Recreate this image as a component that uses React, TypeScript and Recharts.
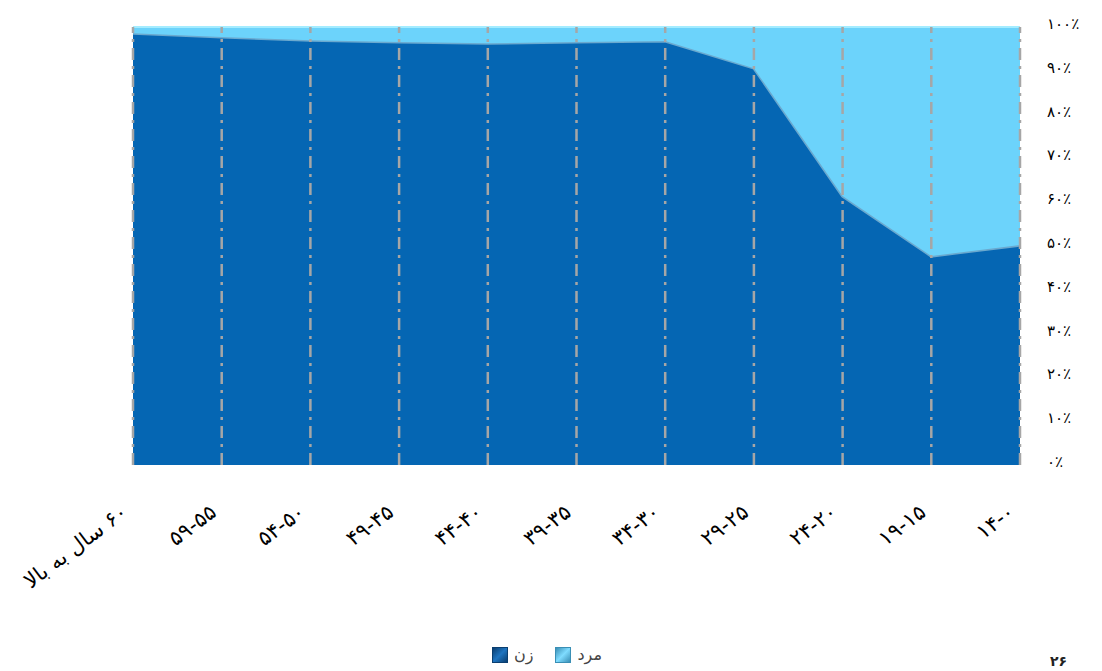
import { AreaChart, Area, XAxis, YAxis, ReferenceLine } from "recharts";

// age groups, left to right as in the picture
const AGE_GROUPS = [
  "\u202B۶۰ سال به بالا\u202C",
  "۵۹-۵۵",
  "۵۴-۵۰",
  "۴۹-۴۵",
  "۴۴-۴۰",
  "۳۹-۳۵",
  "۳۴-۳۰",
  "۲۹-۲۵",
  "۲۴-۲۰",
  "۱۹-۱۵",
  "۱۴-۰",
];

// share of women / men (%)
const WOMEN = [98.6, 97.7, 97.0, 96.6, 96.3, 96.6, 96.8, 90.6, 61.4, 47.7, 50.2];
const MEN = [1.4, 2.3, 3.0, 3.4, 3.7, 3.4, 3.2, 9.4, 38.6, 52.3, 49.8];

const PERCENT_TICKS = [0, 10, 20, 30, 40, 50, 60, 70, 80, 90, 100];
const PERCENT_LABELS = ["۰٪", "۱۰٪", "۲۰٪", "۳۰٪", "۴۰٪", "۵۰٪", "۶۰٪", "۷۰٪", "۸۰٪", "۹۰٪", "۱۰۰٪"];

const WOMEN_COLOR = "#0566b3";
const MEN_COLOR = "#6cd3fb";
const GRID_COLOR = "#a6a6a6";
const FONT = "'DejaVu Sans', sans-serif";

const data = AGE_GROUPS.map((g, i) => ({ group: g, women: WOMEN[i], men: MEN[i] }));

function AgeTick({ x, y, payload }: any) {
  return (
    <g transform={`translate(${x - 4},${y + 42})`}>
      <text
        x={0}
        y={0}
        textAnchor="end"
        transform="rotate(-37)"
        fontSize={21}
        fontFamily={FONT}
        fill="#000"
      >
        {payload.value}
      </text>
    </g>
  );
}

function PercentTick({ x, y, payload }: any) {
  const idx = PERCENT_TICKS.indexOf(payload.value);
  return (
    <text
      x={x + 19}
      y={y - 3}
      textAnchor="start"
      dominantBaseline="central"
      fontSize={15}
      fontFamily={FONT}
      fill="#000"
    >
      {PERCENT_LABELS[idx]}
    </text>
  );
}

function LegendBox({ color, dark }: { color: string; dark: string }) {
  return (
    <span
      style={{
        display: "inline-block",
        width: 14,
        height: 14,
        background: `linear-gradient(135deg, ${dark} 0%, ${color} 50%, ${dark} 100%)`,
        border: `1px solid ${dark}`,
        verticalAlign: "middle",
      }}
    />
  );
}

export default function App() {
  return (
    <div style={{ position: "absolute", left: 0, top: 0, width: 1102, height: 671, background: "#fff" }}>
      <AreaChart
        width={1102}
        height={671}
        data={data}
        margin={{ top: 27, right: 0, left: 133, bottom: 0 }}
      >
        <XAxis
          dataKey="group"
          height={206}
          axisLine={false}
          tickLine={false}
          interval={0}
          tick={<AgeTick />}
        />
        <YAxis
          orientation="right"
          type="number"
          domain={[0, 100]}
          ticks={PERCENT_TICKS}
          width={82}
          axisLine={false}
          tickLine={false}
          tick={<PercentTick />}
        />
        <Area
          type="linear"
          dataKey="women"
          stackId="a"
          fill={WOMEN_COLOR}
          fillOpacity={1}
          stroke="#6aa9cf"
          strokeWidth={3}
          isAnimationActive={false}
        />
        <Area
          type="linear"
          dataKey="men"
          stackId="a"
          fill={MEN_COLOR}
          fillOpacity={1}
          stroke="#a4ecff"
          strokeWidth={2}
          isAnimationActive={false}
        />
        {AGE_GROUPS.map((g) => (
          <ReferenceLine
            key={g}
            x={g}
            stroke={GRID_COLOR}
            strokeWidth={2.5}
            strokeDasharray="12 6 3 6"
          />
        ))}
      </AreaChart>
      <div
        style={{
          position: "absolute",
          left: 492,
          top: 645,
          fontFamily: FONT,
          fontSize: 16,
          color: "#444",
          display: "flex",
          alignItems: "center",
          gap: 6,
        }}
      >
        <LegendBox color="#1e74c0" dark="#0a3e70" />
        <span>زن</span>
        <span style={{ width: 10 }} />
        <LegendBox color="#7fdcff" dark="#3a8fb5" />
        <span>مرد</span>
      </div>
      <div
        style={{
          position: "absolute",
          left: 1050,
          top: 653,
          fontFamily: FONT,
          fontSize: 14,
          fontWeight: "bold",
          color: "#222",
        }}
      >
        ۲۶
      </div>
    </div>
  );
}
